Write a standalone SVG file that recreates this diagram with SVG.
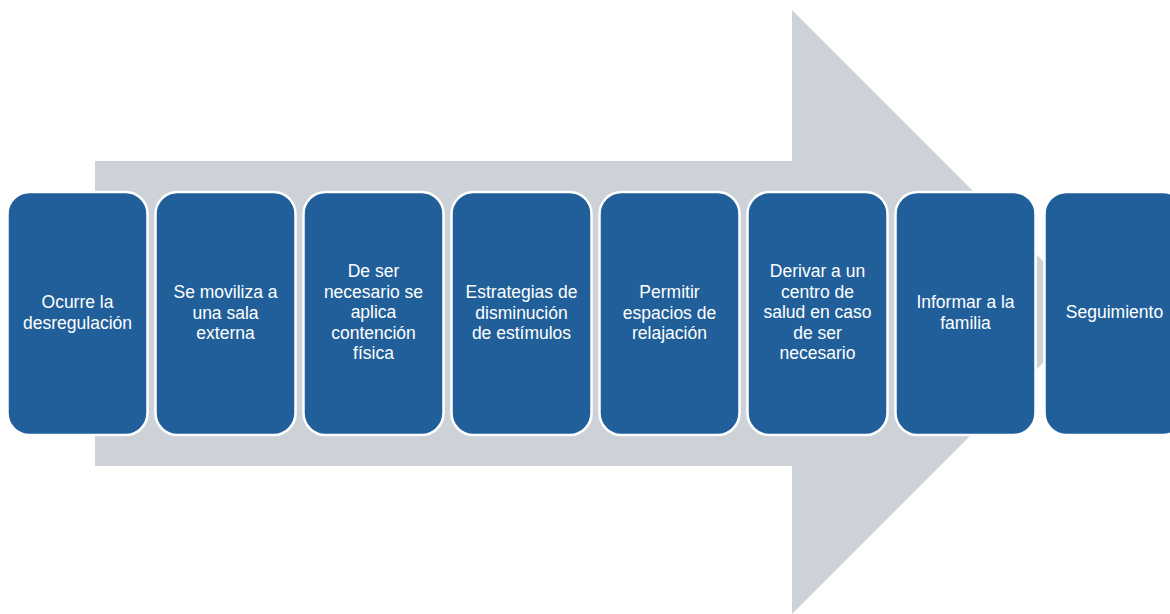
<svg xmlns="http://www.w3.org/2000/svg" width="1170" height="614" viewBox="0 0 1170 614">
<style>
.box{fill:#215F9A;stroke:#FFFFFF;stroke-width:2.5}
.t{font-family:"Liberation Sans",Arial,sans-serif;font-size:17.5px;fill:#FFFFFF;text-anchor:middle}
</style>
<rect width="1170" height="614" fill="#FFFFFF"/>
<g id="arrow">
<polygon points="95,161 792,161 792,10 1094,312 792,614 792,466 95,466" fill="#CDD1D8"/>
</g>
<g id="connectors"></g>
<g id="n1"><rect class="box" x="7.5" y="192" width="140" height="243" rx="22"/>
<text class="t" y="308"><tspan x="77.5">Ocurre la</tspan><tspan x="77.5" dy="20.5">desregulación</tspan></text></g>
<g id="n2"><rect class="box" x="155.5" y="192" width="140" height="243" rx="22"/>
<text class="t" y="298"><tspan x="225.5">Se moviliza a</tspan><tspan x="225.5" dy="20.5">una sala</tspan><tspan x="225.5" dy="20.5">externa</tspan></text></g>
<g id="n3"><rect class="box" x="303.5" y="192" width="140" height="243" rx="22"/>
<text class="t" y="277"><tspan x="373.5">De ser</tspan><tspan x="373.5" dy="20.5">necesario se</tspan><tspan x="373.5" dy="20.5">aplica</tspan><tspan x="373.5" dy="20.5">contención</tspan><tspan x="373.5" dy="20.5">física</tspan></text></g>
<g id="n4"><rect class="box" x="451.5" y="192" width="140" height="243" rx="22"/>
<text class="t" y="298"><tspan x="521.5">Estrategias de</tspan><tspan x="521.5" dy="20.5">disminución</tspan><tspan x="521.5" dy="20.5">de estímulos</tspan></text></g>
<g id="n5"><rect class="box" x="599.5" y="192" width="140" height="243" rx="22"/>
<text class="t" y="298"><tspan x="669.5">Permitir</tspan><tspan x="669.5" dy="20.5">espacios de</tspan><tspan x="669.5" dy="20.5">relajación</tspan></text></g>
<g id="n6"><rect class="box" x="747.5" y="192" width="140" height="243" rx="22"/>
<text class="t" y="277"><tspan x="817.5">Derivar a un</tspan><tspan x="817.5" dy="20.5">centro de</tspan><tspan x="817.5" dy="20.5">salud en caso</tspan><tspan x="817.5" dy="20.5">de ser</tspan><tspan x="817.5" dy="20.5">necesario</tspan></text></g>
<g id="n7"><rect class="box" x="895.5" y="192" width="140" height="243" rx="22"/>
<text class="t" y="308"><tspan x="965.5">Informar a la</tspan><tspan x="965.5" dy="20.5">familia</tspan></text></g>
<g id="n8"><rect class="box" x="1044.5" y="192" width="140" height="243" rx="22"/>
<text class="t" y="318"><tspan x="1114.5">Seguimiento</tspan></text></g>
</svg>
